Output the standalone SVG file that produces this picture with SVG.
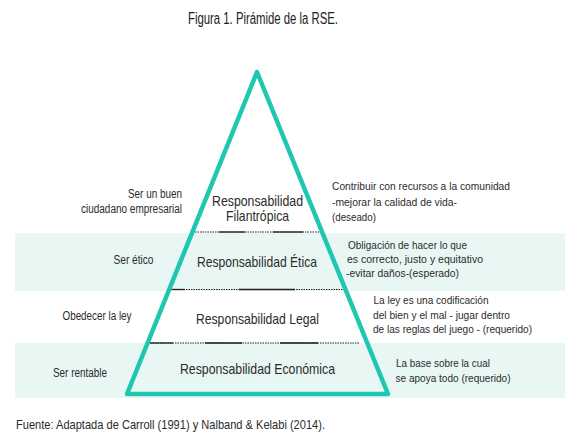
<svg xmlns="http://www.w3.org/2000/svg" width="571" height="446" viewBox="0 0 571 446">
<style>
text{font-family:"Liberation Sans Narrow","Liberation Sans",Arial,sans-serif;fill:#2b2b2b;}
.t{font-size:16px;fill:#222;}
.p{font-size:15px;}
.p2{font-size:14.5px;}
.l{font-size:12px;}
.r{font-size:11.5px;}
.f{font-size:13px;}
.band{fill:#e9f7f4;}
.dot{stroke:#222;stroke-width:1.2;stroke-dasharray:1.5 1;fill:none;}
.sol{stroke:#222;stroke-width:1.3;fill:none;}
.tri{fill:none;stroke:#1fc6b0;stroke-width:4.5;stroke-linejoin:round;}
</style>
<rect width="571" height="446" fill="#fff"/>
<g id="bands">
<rect class="band" x="15" y="233" width="550" height="58"/>
<rect class="band" x="15" y="343" width="550" height="55"/>
</g>
<text class="t" x="188" y="23.5" textLength="150" lengthAdjust="spacingAndGlyphs">Figura 1. Pirámide de la RSE.</text>
<g id="connectors">
<line class="dot" x1="195" y1="232" x2="319" y2="232"/>
<line class="sol" x1="219" y1="232" x2="245" y2="232"/>
<line class="sol" x1="273" y1="232" x2="303" y2="232"/>
<line class="dot" x1="171" y1="289.5" x2="343" y2="289.5"/>
<line class="sol" x1="171" y1="289.5" x2="185" y2="289.5"/>
<line class="sol" x1="239" y1="289.5" x2="295" y2="289.5"/>
<line class="dot" x1="150" y1="343" x2="359" y2="343"/>
<line class="sol" x1="150" y1="343" x2="173" y2="343"/>
<line class="sol" x1="205" y1="343" x2="242" y2="343"/>
<line class="sol" x1="280" y1="343" x2="318" y2="343"/>
</g>
<g id="pyramid">
<polygon class="tri" points="257,72 388,394 127,394"/>
</g>
<g id="filantropica">
<text class="p2" x="212" y="205.5" textLength="91" lengthAdjust="spacingAndGlyphs">Responsabilidad</text>
<text class="p2" x="226" y="221" textLength="63" lengthAdjust="spacingAndGlyphs">Filantrópica</text>
<text class="l" x="128" y="198" textLength="54" lengthAdjust="spacingAndGlyphs">Ser un buen</text>
<text class="l" x="81" y="213" textLength="101" lengthAdjust="spacingAndGlyphs">ciudadano empresarial</text>
<text class="r" x="332" y="190" textLength="178" lengthAdjust="spacingAndGlyphs">Contribuir con recursos a la comunidad</text>
<text class="r" x="332" y="205.5" textLength="125" lengthAdjust="spacingAndGlyphs">-mejorar la calidad de vida-</text>
<text class="r" x="332" y="221" textLength="44" lengthAdjust="spacingAndGlyphs">(deseado)</text>
</g>
<g id="etica">
<text class="p" x="197" y="267" textLength="120" lengthAdjust="spacingAndGlyphs">Responsabilidad Ética</text>
<text class="l" x="113.5" y="263.5" textLength="40" lengthAdjust="spacingAndGlyphs">Ser ético</text>
<text class="r" x="348" y="249" textLength="119" lengthAdjust="spacingAndGlyphs">Obligación de hacer lo que</text>
<text class="r" x="347" y="263" textLength="136" lengthAdjust="spacingAndGlyphs">es correcto, justo y equitativo</text>
<text class="r" x="346" y="277" textLength="113" lengthAdjust="spacingAndGlyphs">-evitar daños-(esperado)</text>
</g>
<g id="legal">
<text class="p" x="196" y="324" textLength="123" lengthAdjust="spacingAndGlyphs">Responsabilidad Legal</text>
<text class="l" x="62.5" y="319.5" textLength="69" lengthAdjust="spacingAndGlyphs">Obedecer la ley</text>
<text class="r" x="373.5" y="304" textLength="115" lengthAdjust="spacingAndGlyphs">La ley es una codificación</text>
<text class="r" x="373" y="318.5" textLength="137" lengthAdjust="spacingAndGlyphs">del bien y el mal - jugar dentro</text>
<text class="r" x="373" y="333" textLength="159" lengthAdjust="spacingAndGlyphs">de las reglas del juego - (requerido)</text>
</g>
<g id="economica">
<text class="p" x="180" y="374" textLength="155" lengthAdjust="spacingAndGlyphs">Responsabilidad Económica</text>
<text class="l" x="53" y="377" textLength="54" lengthAdjust="spacingAndGlyphs">Ser rentable</text>
<text class="r" x="396" y="366.5" textLength="94" lengthAdjust="spacingAndGlyphs">La base sobre la cual</text>
<text class="r" x="395.5" y="382" textLength="115" lengthAdjust="spacingAndGlyphs">se apoya todo (requerido)</text>
</g>
<text class="f" x="16" y="429" textLength="309" lengthAdjust="spacingAndGlyphs">Fuente: Adaptada de Carroll (1991) y Nalband &amp; Kelabi (2014).</text>
</svg>
